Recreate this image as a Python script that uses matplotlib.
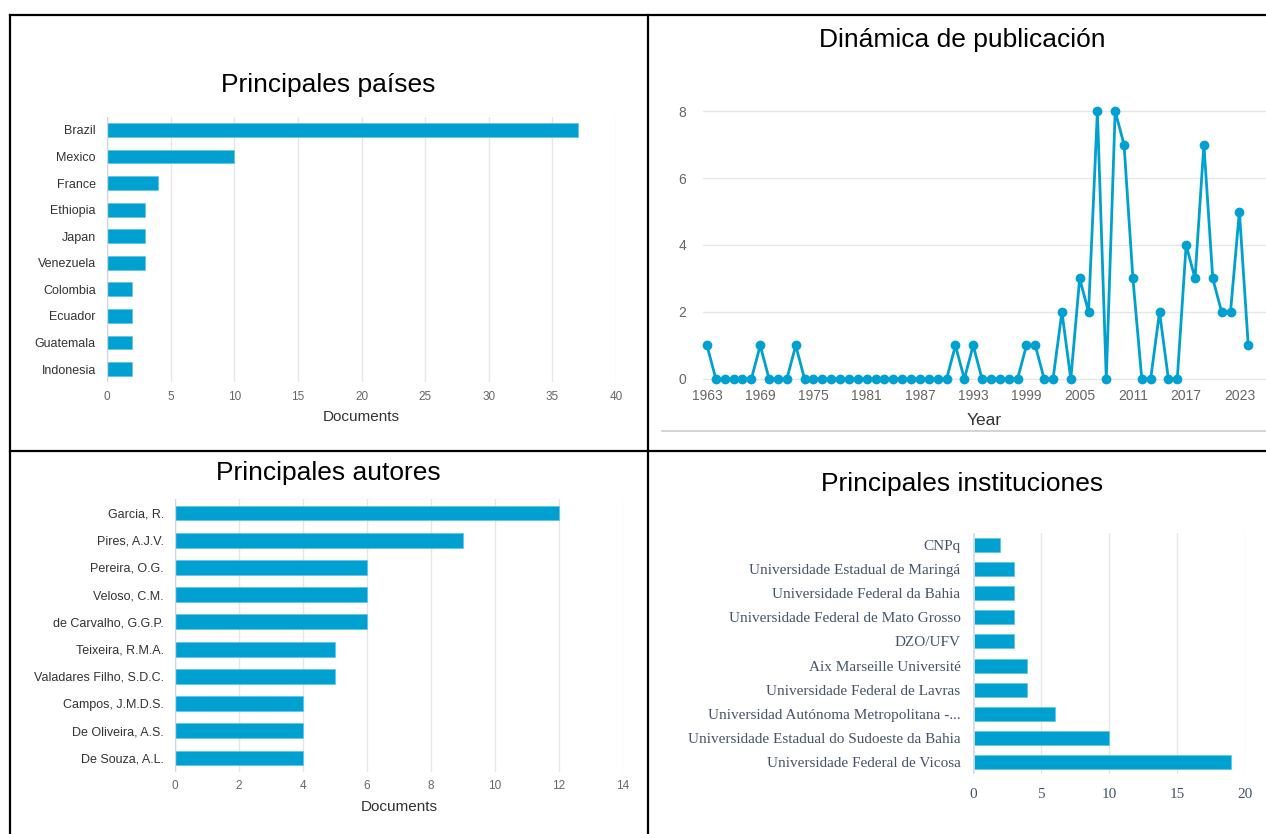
import matplotlib
matplotlib.use("Agg")
import matplotlib.pyplot as plt
from matplotlib.lines import Line2D

# ---------------- data ----------------
countries = ["Brazil", "Mexico", "France", "Ethiopia", "Japan", "Venezuela",
             "Colombia", "Ecuador", "Guatemala", "Indonesia"]
country_docs = [37, 10, 4, 3, 3, 3, 2, 2, 2, 2]

years = list(range(1963, 2025))
year_docs = [1, 0, 0, 0, 0, 0, 1, 0, 0, 0, 1, 0,          # 1963-1974
             0, 0, 0, 0, 0, 0, 0, 0, 0, 0, 0, 0, 0, 0, 0, 0,  # 1975-1990
             1, 0, 1, 0, 0, 0, 0, 0, 1, 1,                # 1991-2000
             0, 0, 2, 0, 3, 2, 8, 0, 8, 7,                # 2001-2010
             3, 0, 0, 2, 0, 0, 4, 3, 7, 3,                # 2011-2020
             2, 2, 5, 1]                                  # 2021-2024
year_ticks = [1963, 1969, 1975, 1981, 1987, 1993, 1999, 2005, 2011, 2017, 2023]

authors = ["Garcia, R.", "Pires, A.J.V.", "Pereira, O.G.", "Veloso, C.M.",
           "de Carvalho, G.G.P.", "Teixeira, R.M.A.", "Valadares Filho, S.D.C.",
           "Campos, J.M.D.S.", "De Oliveira, A.S.", "De Souza, A.L."]
author_docs = [12, 9, 6, 6, 6, 5, 5, 4, 4, 4]

institutions = ["CNPq", "Universidade Estadual de Maringá", "Universidade Federal da Bahia",
                "Universidade Federal de Mato Grosso", "DZO/UFV", "Aix Marseille Université",
                "Universidade Federal de Lavras", "Universidad Autónoma Metropolitana -...",
                "Universidade Estadual do Sudoeste da Bahia", "Universidade Federal de Vicosa"]
institution_docs = [2, 3, 3, 3, 3, 4, 4, 6, 10, 19]

titles = ["Principales países", "Dinámica de publicación",
          "Principales autores", "Principales instituciones"]

# ---------------- style ----------------
BLUE = "#00a0d0"
W, H = 1266, 834
plt.rcParams['font.family'] = ['Liberation Sans', 'DejaVu Sans']
fig = plt.figure(figsize=(W / 100, H / 100), dpi=100)


def axes_px(x0, x1, y0, y1):
    return fig.add_axes([x0 / W, 1 - y1 / H, (x1 - x0) / W, (y1 - y0) / H])


def fig_line(xs, ys, **kw):
    fig.add_artist(Line2D([x / W for x in xs], [1 - y / H for y in ys],
                          transform=fig.transFigure, **kw))


def bar_panel(ax, labels, values, xmax, xstep, height, label_font, tick_font,
              label_color, tick_color, xlabel=None, axis_color="#ccd6eb", axis_lw=1.0,
              pad=8, xpad=6):
    ypos = list(range(len(labels)))
    ax.barh(ypos, values, height=height, color=BLUE, edgecolor="#5cc4e6",
            linewidth=0.5, zorder=3)
    ax.set_ylim(len(labels) - 0.5, -0.5)
    ax.set_xlim(0, xmax)
    ax.set_yticks(ypos)
    ax.set_yticklabels(labels, fontsize=label_font[1], family=label_font[0],
                       color=label_color)
    ax.set_xticks(list(range(0, xmax + 1, xstep)))
    ax.tick_params(axis='x', labelsize=tick_font[1], colors=tick_color, length=0, pad=xpad)
    for t in ax.get_xticklabels():
        t.set_family(tick_font[0])
    ax.tick_params(axis='y', length=0, pad=pad)
    ax.grid(axis='x', color="#e6e6e6", linewidth=1.0, zorder=0)
    for s in ax.spines.values():
        s.set_visible(False)
    ax.axvline(0, color=axis_color, linewidth=axis_lw, zorder=4)
    if xlabel:
        ax.set_xlabel(xlabel, fontsize=11, color="#333333", labelpad=5.5)


# Panel 1: countries
ax1 = axes_px(107, 616, 116.7, 382.3)
bar_panel(ax1, countries, country_docs, 40, 5, 0.52,
          ('Liberation Sans', 9), ('Liberation Sans', 8.5), "#333333", "#666666",
          xlabel="Documents")

# Panel 2: years line
ax2 = axes_px(703, 1266, 99.3, 390.7)
ax2.plot(years, year_docs, color=BLUE, linewidth=2.0, marker='o', markersize=6,
         zorder=3, clip_on=False)
ax2.set_xlim(1962.55, 2026.0)
ax2.set_ylim(-0.35, 8.35)
ax2.set_yticks([0, 2, 4, 6, 8])
ax2.set_xticks(year_ticks)
ax2.tick_params(axis='both', length=0, labelsize=10, colors="#666666")
ax2.tick_params(axis='y', pad=12)
ax2.tick_params(axis='x', pad=-1)
ax2.grid(axis='y', color="#e6e6e6", linewidth=1.0, zorder=0)
for s in ax2.spines.values():
    s.set_visible(False)
ax2.set_xlabel("Year", fontsize=12.5, color="#333333", labelpad=7)

# Panel 3: authors
ax3 = axes_px(175, 623, 499.4, 771.6)
bar_panel(ax3, authors, author_docs, 14, 2, 0.55,
          ('Liberation Sans', 9), ('Liberation Sans', 8.5), "#333333", "#666666",
          xlabel="Documents")

# Panel 4: institutions
ax4 = axes_px(973, 1245, 533, 774)
bar_panel(ax4, institutions, institution_docs, 20, 5, 0.58,
          ('Liberation Serif', 11), ('Liberation Serif', 11), "#44546a", "#44546a",
          axis_color="#d9dde6", axis_lw=2.0, pad=9, xpad=10)

# Titles
for txt, (cx, cy) in zip(titles, [(328, 85), (962, 40), (328, 473), (962, 484)]):
    fig.text(cx / W, 1 - cy / H, txt, fontsize=19, ha='center', va='center',
             color="black")

# Table borders
lw = 1.6
fig_line([10, W], [15, 15], color="black", linewidth=lw)
fig_line([10, 10], [15, H], color="black", linewidth=lw)
fig_line([648, 648], [15, H], color="black", linewidth=lw)
fig_line([10, W], [451, 451], color="black", linewidth=lw)
# light line under line chart
fig_line([662, W], [431, 431], color="#cccccc", linewidth=1.2)

fig.savefig("out.png", dpi=100)
